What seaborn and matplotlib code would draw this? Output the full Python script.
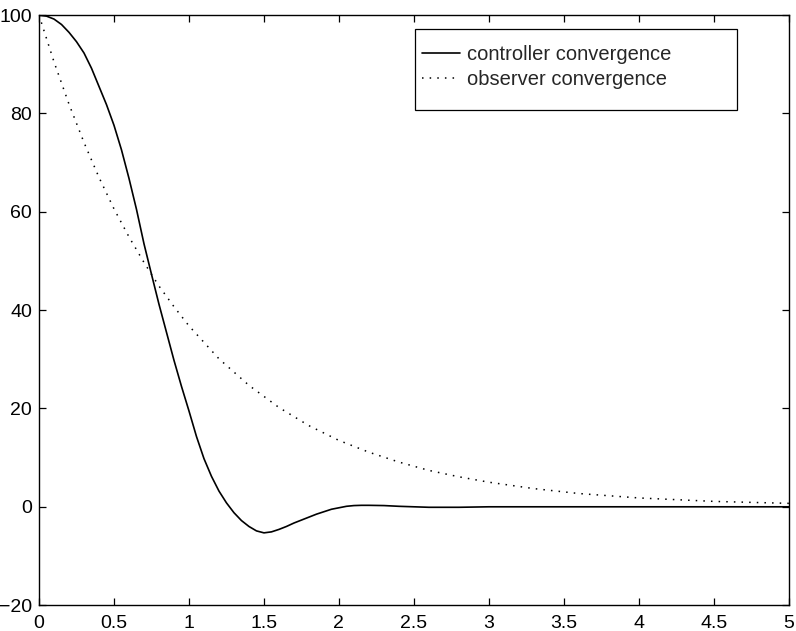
import matplotlib
matplotlib.use("Agg")
import matplotlib.pyplot as plt
import numpy as np
import pandas as pd
import seaborn as sns
from matplotlib.patches import Rectangle

sns.set_style("ticks")
plt.rcParams["font.family"] = ["Liberation Sans", "DejaVu Sans"]

# values
t_ctrl = [0.0, 0.05, 0.1, 0.15, 0.2, 0.25, 0.3, 0.35, 0.4, 0.45, 0.5, 0.55, 0.6, 0.65,
          0.7, 0.75, 0.8, 0.85, 0.9, 0.95, 1.0, 1.05, 1.1, 1.15, 1.2, 1.25, 1.3, 1.35,
          1.4, 1.45, 1.5, 1.55, 1.6, 1.65, 1.7, 1.75, 1.8, 1.85, 1.9, 1.95, 2.0, 2.05,
          2.1, 2.15, 2.2, 2.3, 2.4, 2.5, 2.6, 2.8, 3.0, 4.0, 5.0]
controller = [100.0, 99.8, 99.2, 98.1, 96.5, 94.6, 92.3, 89.2, 85.5, 81.8, 77.6, 72.6,
              66.8, 60.5, 53.5, 47.3, 41.2, 35.5, 29.8, 24.5, 19.5, 14.3, 9.8, 6.2,
              3.2, 0.8, -1.2, -2.8, -4.0, -4.9, -5.3, -5.1, -4.6, -4.0, -3.3, -2.7,
              -2.1, -1.5, -1.0, -0.5, -0.2, 0.1, 0.25, 0.3, 0.3, 0.25, 0.1, 0.0, -0.1,
              -0.1, 0.0, 0.0, 0.0]

t_obs = [0.0, 0.1, 0.2, 0.3, 0.4, 0.5, 0.6, 0.7, 0.8, 0.9, 1.0, 1.2, 1.4, 1.6, 1.8,
         2.0, 2.2, 2.4, 2.6, 2.8, 3.0, 3.3, 3.6, 4.0, 4.5, 5.0]
observer = [100.0, 90.5, 81.9, 74.1, 67.0, 60.6, 54.9, 49.7, 44.9, 40.7, 36.8, 30.1,
            24.7, 20.2, 16.5, 13.5, 11.1, 9.1, 7.4, 6.1, 5.0, 3.7, 2.7, 1.8, 1.1, 0.7]

ctrl = pd.DataFrame({"t": t_ctrl, "v": controller})
obs = pd.DataFrame({"t": t_obs, "v": observer})

fig = plt.figure(figsize=(7.96, 6.31), dpi=100)
ax = fig.add_axes([0.049, 0.041, 0.942, 0.935])

sns.lineplot(data=ctrl, x="t", y="v", ax=ax, color="black", linewidth=1.2,
             label="controller convergence")
sns.lineplot(data=obs, x="t", y="v", ax=ax, color="black", linewidth=1.1,
             linestyle=(0, (1, 4)), label="observer convergence")

ax.set_xlim(0, 5)
ax.set_ylim(-20, 100)
ax.set_xticks(np.arange(0, 5.01, 0.5))
ax.set_xticklabels(["0", "0.5", "1", "1.5", "2", "2.5", "3", "3.5", "4", "4.5", "5"])
ax.set_yticks(np.arange(-20, 101, 20))
ax.set_xlabel("")
ax.set_ylabel("")
ax.tick_params(direction="in", length=5, width=0.9, top=True, right=True,
               labelsize=14, colors="black")
ax.tick_params(axis="x", pad=7)
ax.tick_params(axis="y", pad=5)
for s in ax.spines.values():
    s.set_visible(True)
    s.set_linewidth(1.0)
    s.set_color("black")

# legend box, MATLAB style with wide right margin
ax.add_patch(Rectangle((0.501, 0.839), 0.430, 0.137, transform=ax.transAxes,
                       facecolor="white", edgecolor="black", linewidth=0.9, zorder=4))
leg = ax.legend(loc="upper left", bbox_to_anchor=(0.5107, 0.949), borderaxespad=0,
                borderpad=0, frameon=False, fontsize=14.5, handlelength=1.9,
                handletextpad=0.35, labelspacing=0.3)
leg.set_zorder(5)

fig.savefig("out.png", dpi=100)
